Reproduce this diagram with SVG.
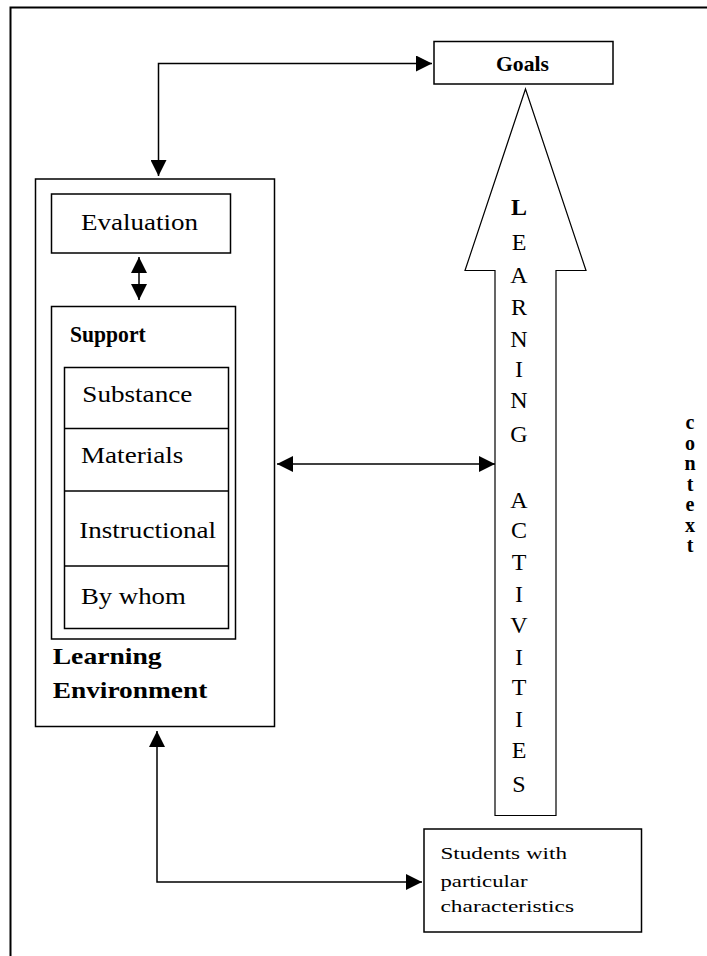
<svg xmlns="http://www.w3.org/2000/svg" width="707" height="956" viewBox="0 0 707 956">
<style>
.box{fill:#fff;stroke:#000;stroke-width:1.5}
.ln{fill:none;stroke:#000;stroke-width:1.5}
.t{font-family:"Liberation Serif","Times New Roman",serif;fill:#000}
.b{font-weight:bold}
.v{font-family:"Liberation Serif","Times New Roman",serif;font-size:24px;text-anchor:middle;fill:#000}
.c{font-family:"Liberation Serif","Times New Roman",serif;font-size:20px;font-weight:bold;text-anchor:middle;fill:#000}
</style>
<defs>
<marker id="ah" viewBox="0 0 16 16" markerWidth="16" markerHeight="16" refX="16" refY="8" orient="auto-start-reverse" markerUnits="userSpaceOnUse">
<path d="M0,0 L16,8 L0,16 z" fill="#000"/>
</marker>
</defs>
<rect width="707" height="956" fill="#fff"/>
<path d="M10.5,956 V7.5 H707" fill="none" stroke="#000" stroke-width="2"/>

<g id="goals">
<rect class="box" x="434" y="41.5" width="179" height="42.5"/>
<text class="t b" x="496" y="70.5" font-size="21" textLength="53" lengthAdjust="spacingAndGlyphs">Goals</text>
</g>

<g id="learning-activities">
<polygon points="525.5,89 586,270.5 556,270.5 556,815.5 495,815.5 495,270.5 465,270.5" fill="#fff" stroke="#000" stroke-width="1.2"/>
<text class="v" x="519" y="215" font-weight="bold">L</text>
<text class="v" x="519" y="250">E</text>
<text class="v" x="519" y="283">A</text>
<text class="v" x="519" y="315">R</text>
<text class="v" x="519" y="347">N</text>
<text class="v" x="519" y="377">I</text>
<text class="v" x="519" y="408">N</text>
<text class="v" x="519" y="442">G</text>
<text class="v" x="519" y="508">A</text>
<text class="v" x="519" y="538">C</text>
<text class="v" x="519" y="570">T</text>
<text class="v" x="519" y="602">I</text>
<text class="v" x="519" y="633">V</text>
<text class="v" x="519" y="665">I</text>
<text class="v" x="519" y="695">T</text>
<text class="v" x="519" y="727">I</text>
<text class="v" x="519" y="758">E</text>
<text class="v" x="519" y="792">S</text>
</g>

<g id="learning-environment">
<rect class="box" x="35.5" y="179" width="239" height="547.5"/>
<text class="t b" x="52.7" y="664" font-size="23" textLength="109" lengthAdjust="spacingAndGlyphs">Learning</text>
<text class="t b" x="52.7" y="698" font-size="23" textLength="154.6" lengthAdjust="spacingAndGlyphs">Environment</text>
</g>

<g id="evaluation">
<rect class="box" x="51.5" y="194" width="179" height="59"/>
<text class="t" x="81" y="230" font-size="24" textLength="117" lengthAdjust="spacingAndGlyphs">Evaluation</text>
</g>

<g id="support">
<rect class="box" x="51.5" y="306.5" width="184" height="332.5"/>
<text class="t b" x="70" y="341.7" font-size="24" textLength="75.7" lengthAdjust="spacingAndGlyphs">Support</text>
<rect class="box" x="64.5" y="367.5" width="164" height="261"/>
<line class="ln" x1="64.5" y1="428.5" x2="228.5" y2="428.5"/>
<line class="ln" x1="64.5" y1="491" x2="228.5" y2="491"/>
<line class="ln" x1="64.5" y1="566" x2="228.5" y2="566"/>
</g>
<g id="substance"><text class="t" x="82.3" y="402.3" font-size="23" textLength="110" lengthAdjust="spacingAndGlyphs">Substance</text></g>
<g id="materials"><text class="t" x="81" y="463.3" font-size="23" textLength="102.3" lengthAdjust="spacingAndGlyphs">Materials</text></g>
<g id="instructional"><text class="t" x="79.3" y="538.3" font-size="23" textLength="136.7" lengthAdjust="spacingAndGlyphs">Instructional</text></g>
<g id="by-whom"><text class="t" x="81" y="604" font-size="23" textLength="104.7" lengthAdjust="spacingAndGlyphs">By whom</text></g>

<g id="students">
<rect class="box" x="424" y="829" width="217.5" height="103"/>
<text class="t" x="440.5" y="859.3" font-size="17" textLength="126.5" lengthAdjust="spacingAndGlyphs">Students with</text>
<text class="t" x="440.5" y="887" font-size="17" textLength="87" lengthAdjust="spacingAndGlyphs">particular</text>
<text class="t" x="440.5" y="911.5" font-size="17" textLength="133.5" lengthAdjust="spacingAndGlyphs">characteristics</text>
</g>

<g id="context">
<text class="c" x="690" y="429">c</text>
<text class="c" x="690" y="449.5">o</text>
<text class="c" x="690" y="470">n</text>
<text class="c" x="690" y="490.5">t</text>
<text class="c" x="690" y="511">e</text>
<text class="c" x="690" y="531.5">x</text>
<text class="c" x="690" y="552">t</text>
</g>

<g id="connectors">
<path class="ln" d="M158.5,176 V63.5 H432" marker-start="url(#ah)" marker-end="url(#ah)"/>
<path class="ln" d="M139,257 V300" marker-start="url(#ah)" marker-end="url(#ah)"/>
<path class="ln" d="M277,464 H495" marker-start="url(#ah)" marker-end="url(#ah)"/>
<path class="ln" d="M157,731 V882 H422" marker-start="url(#ah)" marker-end="url(#ah)"/>
</g>
</svg>
